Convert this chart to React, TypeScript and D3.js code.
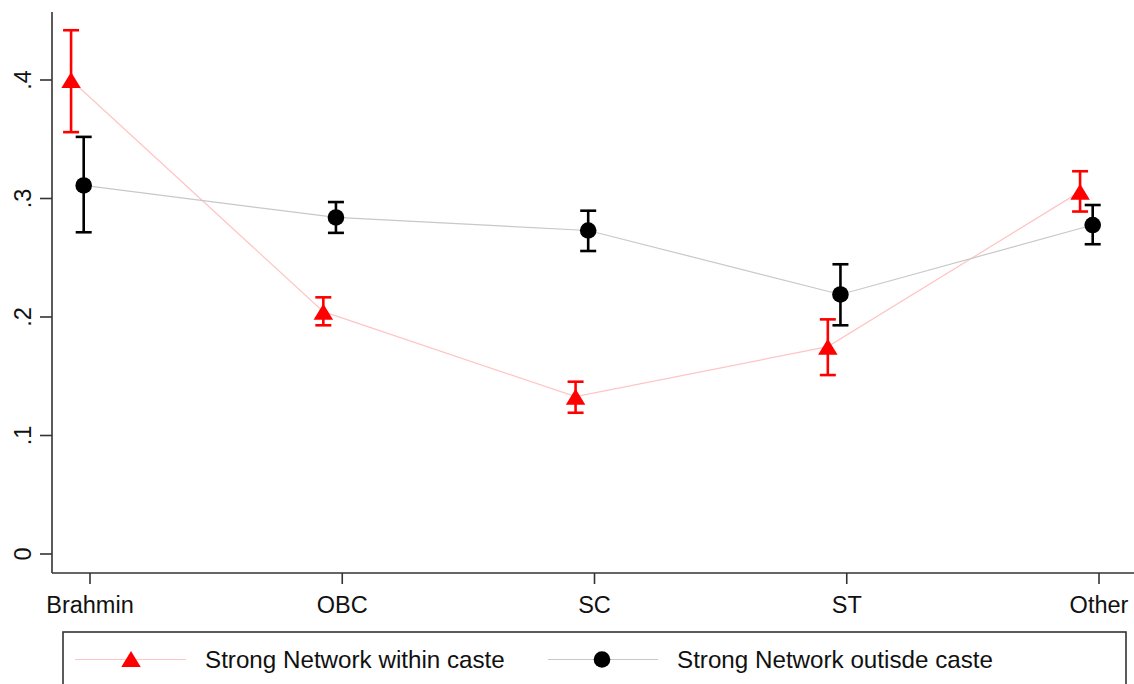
import React from "react";
import * as d3 from "d3";

// categories on the x axis
const categories = ["Brahmin", "OBC", "SC", "ST", "Other"];

// Strong Network within caste (red triangles)
const withinMean = [0.4, 0.2045, 0.1328, 0.175, 0.3058];
const withinLow = [0.356, 0.193, 0.1192, 0.151, 0.289];
const withinHigh = [0.442, 0.2166, 0.1454, 0.198, 0.323];

// Strong Network outisde caste (black circles)
const outsideMean = [0.311, 0.284, 0.273, 0.219, 0.2776];
const outsideLow = [0.2715, 0.271, 0.2557, 0.193, 0.2614];
const outsideHigh = [0.352, 0.297, 0.2897, 0.2445, 0.2945];

const yTicks = [0, 0.1, 0.2, 0.3, 0.4];
const yTickLabels = ["0", ".1", ".2", ".3", ".4"];

const legendLabels = ["Strong Network within caste", "Strong Network outisde caste"];

const W = 1134;
const H = 684;
const FONT = "'Liberation Sans', Arial, sans-serif";

const App = () => {
  // index scale: category position, offsets are fractions of a category step
  const xIdx = d3.scaleLinear().domain([0, categories.length - 1]).range([90, 1099]);
  const y = d3.scaleLinear().domain([0, 0.4]).range([554, 80]);

  const axisX = 52;
  const axisY = 573;

  const series = [
    {
      mean: withinMean,
      low: withinLow,
      high: withinHigh,
      offset: -0.075,
      color: "#ff0000",
      line: "#ffc4c4",
      marker: "triangle",
    },
    {
      mean: outsideMean,
      low: outsideLow,
      high: outsideHigh,
      offset: -0.025,
      color: "#000000",
      line: "#c8c8c8",
      marker: "circle",
    },
  ];

  const triPath = (cx, cy) => {
    const w = 19.5;
    const h = 16;
    return `M${cx - w / 2},${cy + h / 2}L${cx + w / 2},${cy + h / 2}L${cx},${cy - h / 2}Z`;
  };

  return (
    <svg
      width={W}
      height={H}
      style={{ position: "absolute", left: 0, top: 0, background: "#fff" }}
      fontFamily={FONT}
    >
      <rect x={0} y={0} width={W} height={H} fill="#fff" />

      {/* connecting lines */}
      {series.map((s, si) => (
        <path
          key={"l" + si}
          d={
            d3
              .line<number>()
              .x((d, i) => xIdx(i + s.offset))
              .y((d) => y(d))(s.mean) || ""
          }
          fill="none"
          stroke={s.line}
          strokeWidth={1.2}
        />
      ))}

      {/* error bars + markers */}
      {series.map((s, si) => (
        <g key={"s" + si}>
          {s.mean.map((m, i) => {
            const cx = xIdx(i + s.offset);
            const cap = 8;
            return (
              <g key={i}>
                <line x1={cx} x2={cx} y1={y(s.low[i])} y2={y(s.high[i])} stroke={s.color} strokeWidth={2.6} />
                <line x1={cx - cap} x2={cx + cap} y1={y(s.low[i])} y2={y(s.low[i])} stroke={s.color} strokeWidth={2.6} />
                <line x1={cx - cap} x2={cx + cap} y1={y(s.high[i])} y2={y(s.high[i])} stroke={s.color} strokeWidth={2.6} />
                {s.marker === "triangle" ? (
                  <path d={triPath(cx, y(m))} fill={s.color} />
                ) : (
                  <circle cx={cx} cy={y(m)} r={8.3} fill={s.color} />
                )}
              </g>
            );
          })}
        </g>
      ))}

      {/* y axis */}
      <line x1={axisX} x2={axisX} y1={12} y2={axisY} stroke="#333" strokeWidth={1.6} />
      {yTicks.map((t, i) => (
        <g key={"yt" + i}>
          <line x1={40} x2={axisX} y1={y(t)} y2={y(t)} stroke="#333" strokeWidth={1.6} />
          <text
            transform={`translate(31,${y(t)}) rotate(-90)`}
            textAnchor="middle"
            fontSize={23.5}
            fill="#111"
          >
            {yTickLabels[i]}
          </text>
        </g>
      ))}

      {/* x axis */}
      <line x1={axisX} x2={W} y1={axisY} y2={axisY} stroke="#333" strokeWidth={1.6} />
      {categories.map((c, i) => (
        <g key={"xt" + i}>
          <line x1={xIdx(i)} x2={xIdx(i)} y1={axisY} y2={584} stroke="#333" strokeWidth={1.6} />
          <text x={xIdx(i)} y={613} textAnchor="middle" fontSize={23.5} fill="#111">
            {c}
          </text>
        </g>
      ))}

      {/* legend */}
      <rect x={63} y={632} width={1063} height={80} fill="none" stroke="#333" strokeWidth={1.6} />
      <line x1={75} x2={186} y1={659.5} y2={659.5} stroke={series[0].line} strokeWidth={1.2} />
      <path d={triPath(131, 659)} fill={series[0].color} />
      <text x={205} y={668} fontSize={24.2} fill="#111">
        {legendLabels[0]}
      </text>
      <line x1={548} x2={658} y1={659.5} y2={659.5} stroke={series[1].line} strokeWidth={1.2} />
      <circle cx={602} cy={659.5} r={8.3} fill={series[1].color} />
      <text x={677} y={668} fontSize={24.2} fill="#111">
        {legendLabels[1]}
      </text>
    </svg>
  );
};

export default App;
